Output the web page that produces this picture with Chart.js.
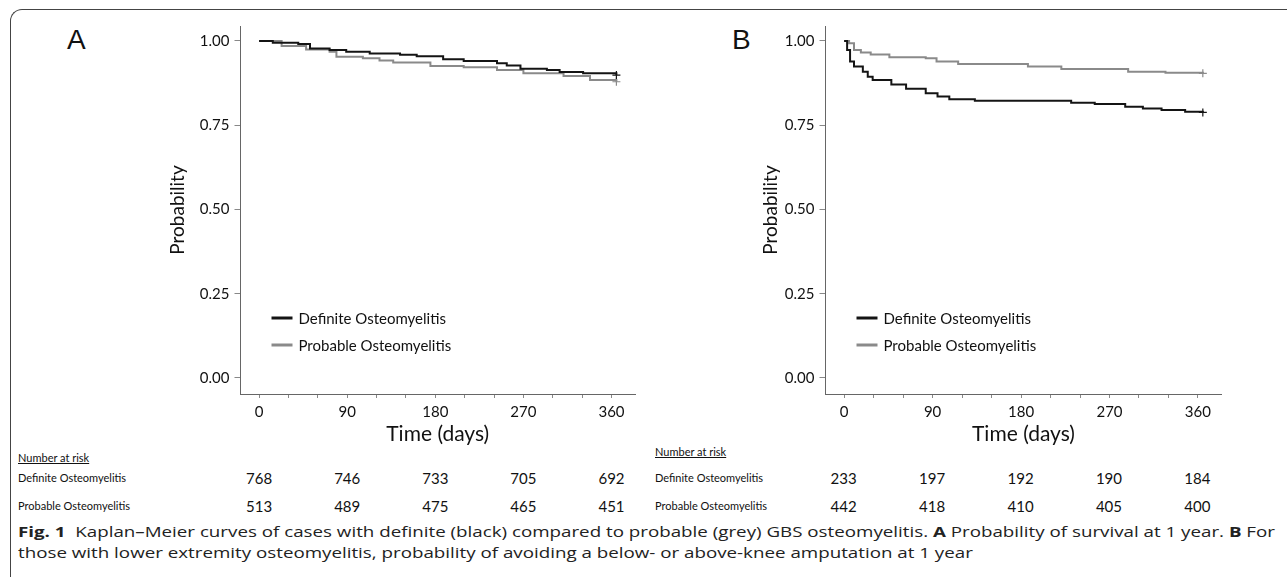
<!DOCTYPE html>
<html lang="en">
<head>
<meta charset="UTF-8">
<title>Kaplan–Meier curves, GBS osteomyelitis</title>
<script src="https://cdn.jsdelivr.net/npm/chart.js"></script>
<style>
  body { margin: 0; background: #fff; }
  #page { position: relative; width: 1287px; height: 577px; overflow: hidden; font-family: Lato, "Open Sans", sans-serif; color: #111; }
  .frame { position: absolute; left: 10px; top: 9px; width: 1300px; height: 600px;
           border-left: 1px solid #444; border-top: 1px solid #444; border-top-left-radius: 12px; }
  .wrap { position: absolute; }
  .tag { position: absolute; font-size: 28px; font-family: "Liberation Sans", Arial, sans-serif; }
  .risk { position: absolute; font-size: 15px; line-height: 18px; transform: translateX(-50%); white-space: nowrap; }
  .rowlab { position: absolute; font-size: 11px; line-height: 14px; white-space: nowrap; }
  .head { text-decoration: underline; }
  #caption { position: absolute; left: 18px; top: 521px; font-family: "Open Sans", sans-serif;
             font-size: 15px; line-height: 21px; color: #222; white-space: nowrap; transform-origin: 0 0; }
</style>
</head>
<body>
<div id="page">
  <div class="frame"></div>
  <div class="tag" style="left:67px; top:24px;">A</div>
  <div class="tag" style="left:732px; top:24px;">B</div>
  <div class="wrap" style="left:150px; top:12px; width:500px; height:438px;"><canvas id="chartA"></canvas></div>
  <div class="wrap" style="left:734.5px; top:12px; width:501.5px; height:438px;"><canvas id="chartB"></canvas></div>
  <div id="caption"><b>Fig. 1</b>&nbsp; Kaplan–Meier curves of cases with definite (black) compared to probable (grey) GBS osteomyelitis. <b>A</b> Probability of survival at 1 year. <b>B</b> For<br>those with lower extremity osteomyelitis, probability of avoiding a below- or above-knee amputation at 1 year</div>
</div>

<script>
// Panel A: survival at 1 year (step curves)
var timeA_def = [0, 14, 40, 52, 72, 89, 113, 144, 161, 188, 209, 243, 253, 267, 294, 307, 331, 365];
var survA_def = [1.0, 0.995, 0.991, 0.978, 0.973, 0.968, 0.963, 0.959, 0.955, 0.946, 0.941, 0.934, 0.927, 0.918, 0.914, 0.908, 0.904, 0.899];
var timeA_prob = [0, 23, 48, 72, 79, 106, 123, 137, 175, 209, 243, 270, 311, 338, 365];
var survA_prob = [1.0, 0.985, 0.975, 0.968, 0.953, 0.949, 0.942, 0.936, 0.926, 0.922, 0.914, 0.904, 0.896, 0.884, 0.879];

// Panel B: amputation-free at 1 year
var timeB_def = [0, 3, 6, 10, 19, 24, 29, 48, 63, 83, 95, 107, 133, 231, 255, 286, 304, 323, 347, 365];
var survB_def = [1.0, 0.973, 0.939, 0.924, 0.909, 0.894, 0.884, 0.871, 0.858, 0.845, 0.835, 0.827, 0.823, 0.817, 0.813, 0.805, 0.800, 0.795, 0.790, 0.788];
var timeB_prob = [0, 5, 10, 17, 27, 46, 83, 94, 116, 187, 221, 289, 327, 365];
var survB_prob = [1.0, 0.993, 0.973, 0.966, 0.960, 0.952, 0.949, 0.939, 0.932, 0.924, 0.917, 0.909, 0.906, 0.904];

// Number at risk table
var riskTimes = [0, 90, 180, 270, 360];
var riskA_def = [768, 746, 733, 705, 692];
var riskA_prob = [513, 489, 475, 465, 451];
var riskB_def = [233, 197, 192, 190, 184];
var riskB_prob = [442, 418, 410, 405, 400];

var seriesNames = ['Definite Osteomyelitis', 'Probable Osteomyelitis'];
var yTicks = [0, 0.25, 0.5, 0.75, 1];
var xTicks = [0, 30, 60, 90, 120, 150, 180, 210, 240, 270, 300, 330, 360];

function toPoints(t, s) {
    return t.map(function (v, i) { return { x: v, y: s[i] }; });
}

// legend drawn inside the plot area
var innerLegend = {
    id: 'innerLegend',
    afterDraw: function (chart) {
        var ctx = chart.ctx, a = chart.chartArea;
        ctx.save();
        ctx.font = '15px Lato, "Open Sans", sans-serif';
        ctx.textBaseline = 'middle';
        chart.data.datasets.forEach(function (ds, i) {
            var y = a.top + 292 + i * 27;
            var x = a.left + 31;
            ctx.strokeStyle = ds.borderColor;
            ctx.lineWidth = 3;
            ctx.beginPath(); ctx.moveTo(x, y); ctx.lineTo(x + 21, y); ctx.stroke();
            ctx.fillStyle = '#111';
            ctx.fillText(ds.label, x + 27, y + 1);
        });
        ctx.restore();
    }
};

function makePanel(id, defT, defS, probT, probS, titlePad) {
    var lastD = defT.length - 1, lastP = probT.length - 1;
    return new Chart(document.getElementById(id), {
        type: 'line',
        data: {
            datasets: [{
                label: seriesNames[0],
                data: toPoints(defT, defS),
                borderColor: '#141414',
                borderWidth: 2,
                stepped: true,
                pointStyle: 'cross',
                pointBorderColor: '#141414',
                pointBorderWidth: 1.2,
                pointRadius: function (c) { return c.dataIndex === lastD ? 4 : 0; }
            }, {
                label: seriesNames[1],
                data: toPoints(probT, probS),
                borderColor: '#8a8a8a',
                borderWidth: 2,
                stepped: true,
                pointStyle: 'cross',
                pointBorderColor: '#8a8a8a',
                pointBorderWidth: 1.2,
                pointRadius: function (c) { return c.dataIndex === lastP ? 4 : 0; }
            }]
        },
        options: {
            responsive: true,
            maintainAspectRatio: false,
            animation: false,
            layout: { padding: { top: 0, right: 15, left: 0, bottom: 0 } },
            plugins: { legend: { display: false }, tooltip: { enabled: false } },
            scales: {
                x: {
                    type: 'linear',
                    min: -19, max: 384,
                    afterBuildTicks: function (s) { s.ticks = xTicks.map(function (v) { return { value: v }; }); },
                    afterFit: function (s) { s.height = 56; },
                    border: { display: true, color: '#666', width: 1 },
                    grid: { drawOnChartArea: false, drawTicks: true, tickLength: 4, color: '#888' },
                    ticks: {
                        autoSkip: false, maxRotation: 0, padding: 5, color: '#111',
                        font: { family: 'Lato, "Open Sans", sans-serif', size: 15 },
                        callback: function (v) { return v % 90 === 0 ? String(v) : ''; }
                    },
                    title: {
                        display: true, text: 'Time (days)', color: '#111',
                        font: { family: 'Lato, "Open Sans", sans-serif', size: 21 },
                        padding: { top: 0, bottom: 3 }
                    }
                },
                y: {
                    min: -0.0475, max: 1.0445,
                    afterBuildTicks: function (s) { s.ticks = yTicks.map(function (v) { return { value: v }; }); },
                    afterFit: function (s) { s.width = 90.5; },
                    border: { display: true, color: '#666', width: 1 },
                    grid: { drawOnChartArea: false, drawTicks: true, tickLength: 6, color: '#888' },
                    ticks: {
                        padding: 5, color: '#111',
                        font: { family: 'Lato, "Open Sans", sans-serif', size: 15 },
                        callback: function (v) { return Number(v).toFixed(2); }
                    },
                    title: {
                        display: true, text: 'Probability', color: '#111',
                        font: { family: 'Lato, "Open Sans", sans-serif', size: 19 },
                        padding: { top: titlePad, bottom: 0 }
                    }
                }
            }
        },
        plugins: [innerLegend]
    });
}

var chartA = makePanel('chartA', timeA_def, survA_def, timeA_prob, survA_prob, 16);
var chartB = makePanel('chartB', timeB_def, survB_def, timeB_prob, survB_prob, 24);

// number-at-risk rows, aligned to each chart's x scale
var page = document.getElementById('page');
function addDiv(cls, text, left, top) {
    var d = document.createElement('div');
    d.className = cls;
    d.textContent = text;
    d.style.left = left + 'px';
    d.style.top = top + 'px';
    page.appendChild(d);
}
function riskTable(chart, offsetLeft, labelLeft, headTop) {
    var defRow = arguments[4], probRow = arguments[5];
    addDiv('rowlab head', 'Number at risk', labelLeft, headTop);
    addDiv('rowlab', seriesNames[0], labelLeft, 471);
    addDiv('rowlab', seriesNames[1], labelLeft, 499);
    riskTimes.forEach(function (t, i) {
        var x = offsetLeft + chart.scales.x.getPixelForValue(t);
        addDiv('risk', defRow[i], x, 469);
        addDiv('risk', probRow[i], x, 497);
    });
}
riskTable(chartA, 150, 18, 451, riskA_def, riskA_prob);
riskTable(chartB, 734.5, 655, 445, riskB_def, riskB_prob);

// stretch the caption's first line to the full width of the figure
var cap = document.getElementById('caption');
var probe = document.createElement('span');
probe.style.cssText = 'position:absolute;visibility:hidden;white-space:nowrap;font:15px "Open Sans",sans-serif;';
probe.innerHTML = cap.innerHTML.split('<br>')[0];
page.appendChild(probe);
cap.style.transform = 'scaleX(' + (1257 / probe.getBoundingClientRect().width) + ')';
probe.remove();
</script>
</body>
</html>
